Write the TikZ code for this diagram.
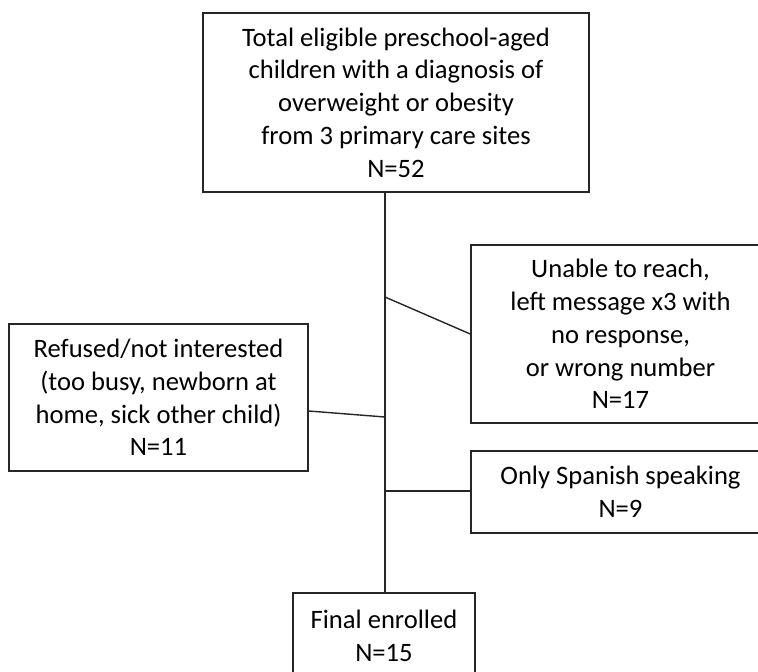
\documentclass[tikz,border=0pt]{standalone}
\usepackage{fontspec}
\setmainfont{Carlito}
\begin{document}
\begin{tikzpicture}[x=1pt,y=-1pt,
  box/.style={draw=black!85, line width=1.5pt, fill=white, rectangle, inner sep=0pt,
    align=center, font=\fontsize{26.6}{32.8}\selectfont, text=black},
  txt/.style={inner sep=0pt, align=center, font=\fontsize{26.6}{32.8}\selectfont, text=black},
  link/.style={draw=black!85, line width=1.4pt}]
\useasboundingbox (0,0) rectangle (758,672);
\clip (0,0) rectangle (758,672);
\fill[white] (0,0) rectangle (758,672);
\coordinate (spine) at (385,0);
\coordinate (j1) at (385,297);
\coordinate (j2) at (385,417);
\coordinate (j3) at (385,491);
% spine
\draw[link] (385,192) -- (385,593);
\node[box, minimum width=386pt, minimum height=179pt] (top) at (396,102.5)
  {Total eligible preschool-aged\\children with a diagnosis of\\overweight or obesity\\from 3 primary care sites\\N=52};
\node[box, minimum width=299pt, minimum height=147pt] (refused) at (158.5,397.5)
  {Refused/not interested\\(too busy, newborn at\\home, sick other child)\\N=11};
\node[box, minimum width=299pt, minimum height=178pt] (unable) at (620.5,334)
  {Unable to reach,\\left message x3 with\\no response,\\or wrong number\\N=17};
\node[box, minimum width=299pt, minimum height=82pt] (spanish) at (620.5,492)
  {Only Spanish speaking\\N=9};
\node[box, minimum width=182pt, minimum height=97pt] (final) at (384,641.5) {};
\node[txt, anchor=north] (finaltxt) at (384,610) {Final enrolled\\N=15};
\draw[link] (j1) -- (unable.west |- 0,334);
\draw[link] (refused.east |- 0,411) -- (j2);
\draw[link] (j3) -- (spanish.west |- j3);
\end{tikzpicture}
\end{document}
